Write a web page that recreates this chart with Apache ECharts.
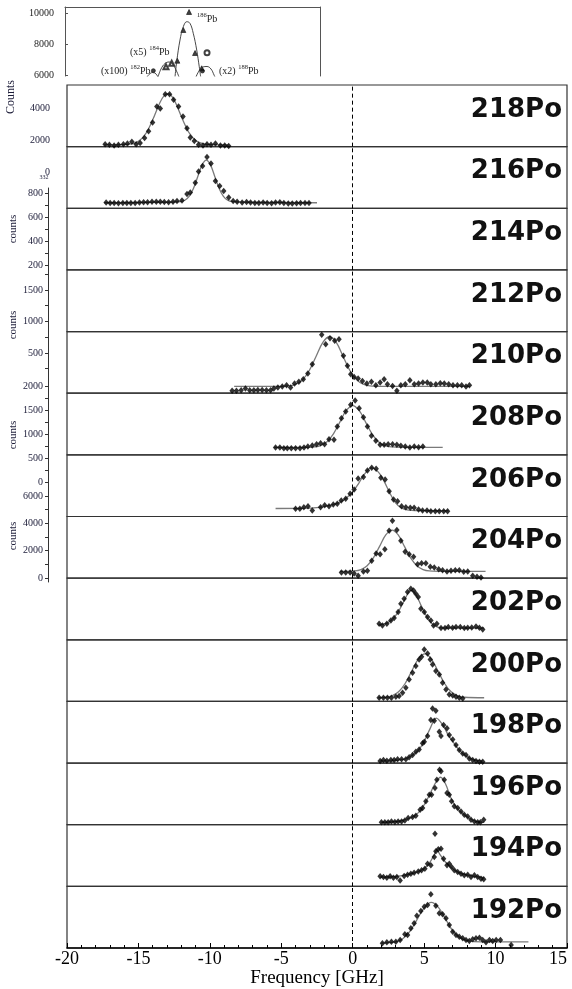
<!DOCTYPE html>
<html>
<head>
<meta charset="utf-8">
<script src="https://cdn.jsdelivr.net/npm/echarts@6/dist/echarts.min.js"></script>
<style>
html, body { margin: 0; padding: 0; background: #fff; }
#chart { width: 572px; height: 989px; }
</style>
</head>
<body>
<div id="chart"></div>
<script>
// Polonium isotopes, one panel each, top to bottom
const isotopes = ['218Po','216Po','214Po','212Po','210Po','208Po','206Po','204Po','202Po','200Po','198Po','196Po','194Po','192Po'];
const freqTicks = [-20, -15, -10, -5, 0, 5, 10, 15];

// Measured spectra: frequency [GHz] and normalised counts, with fitted profiles
const po218X = [-17.33,-17.03,-16.70,-16.40,-16.05,-15.77,-15.46,-15.16,-14.88,-14.57,-14.29,-14.01,-13.71,-13.47,-13.12,-12.82,-12.54,-12.19,-11.88,-11.60,-11.37,-11.09,-10.79,-10.48,-10.20,-9.92,-9.61,-9.26,-8.96,-8.68];
const po218Y = [0.04,0.03,0.02,0.03,0.04,0.05,0.08,0.04,0.06,0.14,0.25,0.39,0.65,0.62,0.85,0.85,0.76,0.65,0.49,0.30,0.15,0.09,0.03,0.02,0.04,0.03,0.05,0.02,0.02,0.01];
const po218FitX = [-17.4,-16.0,-15.5,-15.0,-14.5,-14.0,-13.5,-13.2,-12.95,-12.7,-12.4,-11.9,-11.4,-10.9,-10.4,-9.9,-8.7];
const po218FitY = [0.03,0.033,0.044,0.085,0.206,0.437,0.713,0.827,0.86,0.827,0.713,0.437,0.206,0.085,0.043,0.032,0.03];

const po216X = [-17.26,-16.98,-16.70,-16.40,-16.09,-15.81,-15.53,-15.23,-14.93,-14.64,-14.36,-14.05,-13.75,-13.47,-13.19,-12.89,-12.58,-12.30,-11.95,-11.60,-11.37,-11.02,-10.79,-10.51,-10.20,-9.92,-9.61,-9.31,-9.03,-8.68,-8.37,-8.09,-7.74,-7.43,-7.15,-6.85,-6.57,-6.27,-5.99,-5.68,-5.40,-5.10,-4.82,-4.51,-4.23,-3.93,-3.65,-3.34,-3.06];
const po216Y = [0.092,0.087,0.087,0.081,0.087,0.087,0.087,0.087,0.092,0.097,0.097,0.108,0.108,0.108,0.103,0.097,0.108,0.119,0.128,0.23,0.255,0.416,0.595,0.687,0.833,0.725,0.443,0.362,0.281,0.173,0.119,0.108,0.092,0.103,0.092,0.087,0.087,0.092,0.087,0.081,0.092,0.097,0.087,0.076,0.076,0.081,0.087,0.087,0.087];
const po216FitX = [-17.4,-12.5,-12.05,-11.75,-11.45,-11.15,-10.85,-10.55,-10.25,-9.95,-9.65,-9.35,-9.05,-8.75,-8.45,-7.5,-2.5];
const po216FitY = [0.09,0.10,0.108,0.130,0.192,0.321,0.512,0.70,0.78,0.70,0.512,0.321,0.192,0.130,0.108,0.10,0.09];

const po210X = [-8.44,-8.14,-7.81,-7.51,-7.21,-6.92,-6.64,-6.34,-6.04,-5.75,-5.52,-5.24,-4.93,-4.63,-4.35,-4.07,-3.77,-3.46,-3.14,-2.83,-2.17,-1.89,-1.59,-1.26,-0.96,-0.65,-0.37,-0.14,0.10,0.38,0.68,0.99,1.31,1.62,1.92,2.20,2.43,2.79,3.09,3.37,3.68,4.00,4.31,4.61,4.91,5.22,5.47,5.82,6.13,6.41,6.72,7.02,7.33,7.63,7.93,8.17];
const po210Y = [0.038,0.038,0.049,0.076,0.049,0.049,0.054,0.054,0.049,0.049,0.076,0.092,0.108,0.130,0.092,0.157,0.184,0.227,0.319,0.471,0.947,0.796,0.893,0.850,0.877,0.606,0.444,0.308,0.265,0.238,0.200,0.157,0.184,0.130,0.173,0.227,0.146,0.119,0.038,0.130,0.146,0.211,0.146,0.157,0.173,0.173,0.146,0.146,0.162,0.157,0.146,0.130,0.130,0.130,0.108,0.130];
const po210FitX = [-8.3,-5.0,-4.44,-3.97,-3.50,-3.03,-2.56,-2.09,-1.62,-1.15,-0.68,-0.21,0.26,0.73,1.20,2.0,8.2];
const po210FitY = [0.11,0.111,0.119,0.146,0.220,0.373,0.601,0.825,0.92,0.825,0.601,0.373,0.220,0.146,0.119,0.11,0.11];

const po208X = [-5.40,-5.10,-4.82,-4.58,-4.30,-4.00,-3.69,-3.41,-3.14,-2.83,-2.53,-2.25,-1.97,-1.66,-1.31,-1.08,-0.79,-0.49,-0.14,0.17,0.45,0.75,1.03,1.31,1.62,1.92,2.20,2.48,2.79,3.09,3.37,3.68,4.00,4.31,4.61,4.91];
const po208Y = [0.119,0.119,0.108,0.108,0.108,0.108,0.108,0.119,0.135,0.152,0.173,0.189,0.173,0.254,0.244,0.460,0.595,0.703,0.812,0.882,0.758,0.611,0.460,0.308,0.227,0.162,0.162,0.173,0.173,0.162,0.146,0.135,0.119,0.135,0.124,0.135];
const po208FitX = [-5.5,-3.0,-2.7,-2.25,-1.8,-1.35,-0.9,-0.45,0,0.45,0.9,1.35,1.8,2.25,2.7,3.5,6.3];
const po208FitY = [0.12,0.122,0.128,0.150,0.212,0.341,0.532,0.720,0.80,0.720,0.532,0.341,0.212,0.150,0.128,0.12,0.12];

const po206X = [-4.00,-3.70,-3.42,-3.13,-2.83,-2.25,-1.96,-1.66,-1.36,-1.08,-0.80,-0.49,-0.18,0.10,0.38,0.75,1.03,1.33,1.64,1.97,2.27,2.55,2.86,3.14,3.42,3.72,4.03,4.30,4.61,4.89,5.20,5.47,5.78,6.06,6.37,6.64];
const po206Y = [0.124,0.124,0.151,0.167,0.097,0.151,0.184,0.167,0.195,0.206,0.260,0.287,0.368,0.438,0.617,0.639,0.747,0.790,0.774,0.628,0.601,0.411,0.276,0.249,0.168,0.151,0.141,0.141,0.114,0.097,0.097,0.087,0.087,0.087,0.087,0.087];
const po206FitX = [-5.4,-3.0,-2.0,-1.0,-0.5,0,0.4,0.8,1.3,1.8,2.2,2.6,3.0,3.4,3.9,5.0,6.7];
const po206FitY = [0.13,0.135,0.16,0.22,0.29,0.40,0.53,0.68,0.79,0.72,0.57,0.38,0.22,0.14,0.105,0.095,0.095];

const po204X = [-0.79,-0.49,-0.18,0.10,0.38,0.75,1.03,1.33,1.64,1.92,2.25,2.55,2.78,3.09,3.37,3.67,3.95,4.26,4.54,4.82,5.12,5.43,5.71,6.02,6.29,6.60,6.88,7.18,7.46,7.77,8.05,8.40,8.70,8.98];
const po204Y = [0.092,0.092,0.092,0.076,0.038,0.108,0.119,0.281,0.400,0.389,0.470,0.768,0.931,0.779,0.606,0.427,0.389,0.346,0.227,0.243,0.243,0.184,0.173,0.146,0.130,0.108,0.119,0.130,0.130,0.103,0.108,0.038,0.022,0.01];
const po204FitX = [-0.9,0.14,0.575,1.01,1.445,1.88,2.315,2.75,3.185,3.62,4.055,4.49,4.925,5.36,6.5,9.3];
const po204FitY = [0.11,0.117,0.139,0.201,0.328,0.516,0.701,0.78,0.701,0.516,0.328,0.201,0.139,0.117,0.11,0.11];

const po202X = [1.85,2.08,2.39,2.67,2.90,3.18,3.37,3.60,3.84,4.07,4.26,4.42,4.59,4.77,5.01,5.24,5.47,5.66,5.89,6.18,6.46,6.69,6.99,7.23,7.53,7.81,8.05,8.33,8.63,8.87,9.10];
const po202Y = [0.260,0.233,0.260,0.314,0.352,0.449,0.584,0.666,0.774,0.828,0.801,0.747,0.693,0.503,0.449,0.368,0.314,0.233,0.260,0.190,0.190,0.206,0.195,0.206,0.206,0.190,0.195,0.200,0.217,0.195,0.168];
const po202FitX = [1.8,2.4,2.9,3.3,3.7,4.05,4.4,4.8,5.2,5.6,6.0,6.5,9.2];
const po202FitY = [0.24,0.27,0.36,0.50,0.68,0.80,0.74,0.55,0.37,0.25,0.20,0.19,0.19];

const po200X = [1.85,2.15,2.43,2.71,3.02,3.25,3.49,3.72,3.95,4.19,4.42,4.65,4.82,5.01,5.24,5.43,5.59,5.82,6.06,6.29,6.53,6.76,7.00,7.23,7.46,7.70];
const po200Y = [0.060,0.060,0.060,0.060,0.076,0.087,0.141,0.222,0.357,0.465,0.574,0.682,0.725,0.844,0.779,0.682,0.601,0.492,0.438,0.303,0.195,0.114,0.097,0.076,0.060,0.049];
const po200FitX = [1.8,2.29,2.75,3.21,3.67,4.13,4.59,5.05,5.51,5.97,6.43,6.89,7.35,7.81,9.2];
const po200FitY = [0.06,0.068,0.091,0.156,0.291,0.491,0.687,0.77,0.687,0.491,0.291,0.156,0.091,0.068,0.06];

const po198X = [1.92,2.15,2.39,2.67,2.90,3.14,3.42,3.72,3.95,4.19,4.42,4.65,4.89,5.01,5.24,5.47,5.59,5.71,5.82,6.06,6.18,6.36,6.60,6.76,7.00,7.23,7.46,7.70,7.93,8.16,8.40,8.63,8.87,9.10];
const po198Y = [0.033,0.049,0.038,0.049,0.049,0.060,0.060,0.060,0.093,0.130,0.184,0.222,0.320,0.346,0.438,0.698,0.887,0.687,0.850,0.509,0.438,0.617,0.563,0.455,0.384,0.293,0.211,0.157,0.130,0.076,0.049,0.033,0.022,0.022];
const po198FitX = [1.9,3.0,3.7,4.2,4.6,5.0,5.4,5.85,6.3,6.7,7.1,7.5,7.9,8.4,9.1];
const po198FitY = [0.03,0.04,0.07,0.13,0.21,0.35,0.55,0.73,0.62,0.45,0.32,0.20,0.12,0.06,0.035];

const po196X = [2.01,2.25,2.48,2.71,2.95,3.18,3.42,3.65,3.88,4.19,4.42,4.72,4.89,5.12,5.36,5.52,5.76,5.89,6.08,6.18,6.41,6.60,6.76,6.92,7.11,7.35,7.58,7.81,8.05,8.28,8.52,8.75,8.94,9.17];
const po196Y = [0.038,0.038,0.038,0.054,0.043,0.054,0.054,0.070,0.108,0.124,0.146,0.244,0.271,0.379,0.487,0.487,0.595,0.731,0.893,0.866,0.731,0.514,0.487,0.379,0.298,0.271,0.216,0.162,0.135,0.081,0.054,0.038,0.038,0.081];
const po196FitX = [2.0,3.0,3.8,4.3,4.8,5.3,5.75,6.15,6.5,6.9,7.3,7.7,8.2,8.7,9.2];
const po196FitY = [0.04,0.05,0.09,0.14,0.25,0.45,0.66,0.77,0.66,0.42,0.27,0.18,0.10,0.05,0.04];

const po194X = [1.92,2.15,2.39,2.62,2.85,3.09,3.32,3.60,3.84,4.07,4.30,4.59,4.82,5.05,5.24,5.47,5.71,5.76,5.82,5.99,6.18,6.36,6.60,6.76,6.92,7.11,7.35,7.58,7.81,8.05,8.28,8.52,8.75,8.98,9.17];
const po194Y = [0.162,0.151,0.141,0.162,0.141,0.151,0.097,0.168,0.190,0.206,0.222,0.243,0.260,0.287,0.368,0.341,0.476,0.855,0.568,0.601,0.612,0.449,0.341,0.368,0.314,0.260,0.233,0.206,0.179,0.190,0.151,0.179,0.151,0.124,0.114];
const po194FitX = [1.9,3.0,3.8,4.5,5.0,5.4,5.7,5.9,6.1,6.4,6.8,7.3,7.9,8.6,9.2];
const po194FitY = [0.15,0.16,0.19,0.23,0.29,0.39,0.51,0.59,0.52,0.42,0.32,0.24,0.19,0.16,0.14];

const po192X = [2.08,2.39,2.71,3.02,3.32,3.65,3.84,4.07,4.30,4.49,4.77,5.01,5.24,5.47,5.82,6.06,6.29,6.53,6.76,7.00,7.23,7.46,7.70,7.93,8.16,8.40,8.63,8.87,9.10,9.33,9.57,9.80,10.04,10.34,11.09];
const po192Y = [0.076,0.092,0.103,0.103,0.130,0.222,0.211,0.319,0.400,0.525,0.601,0.671,0.698,0.871,0.687,0.563,0.547,0.482,0.373,0.265,0.211,0.184,0.157,0.130,0.114,0.141,0.157,0.168,0.130,0.092,0.130,0.114,0.130,0.130,0.049];
const po192FitX = [2.0,3.0,3.5,4.0,4.5,5.0,5.5,6.0,6.5,7.0,7.5,8.0,9.0,12.3];
const po192FitY = [0.08,0.10,0.15,0.27,0.46,0.65,0.74,0.66,0.47,0.28,0.17,0.12,0.10,0.10];

// Lead reference spectra (inset): frequency offset and counts
const pb186X = [9.73,9.28,8.81,10.20,10.72];
const pb186Y = [10065,8903,6923,7419,6432];
const pb186FitX = [8.63,8.76,9.02,9.28,9.55,9.80,10.06,10.33,10.53,10.64];
const pb186FitY = [5890,6858,8258,9116,9439,9335,8690,7613,6535,5890];
const pb186OpenX = [11.14];
const pb186OpenY = [7439];
const pb184X = [7.92,8.37];
const pb184Y = [6535,6755];
const pb184FitX = [7.29,7.53,7.84,8.16,8.47,8.78,8.94];
const pb184FitY = [5871,6387,6742,6839,6677,6194,5871];
const pb182X = [6.93];
const pb182Y = [6277];
const pb182FitX = [6.43,6.67,6.90,7.14,7.29];
const pb182FitY = [5871,6097,6161,6065,5871];
const pb188X = [10.78];
const pb188Y = [6258];
const pb188FitX = [10.27,10.51,10.82,11.14,11.45,11.69,11.76];
const pb188FitY = [5871,6258,6516,6548,6387,6000,5871];
const insetTicks = [6000, 8000, 10000];

// Stray count scales along the left margin
const scaleA = [0, 2000, 4000];
const scaleB = [200, 400, 600, 800];
const scaleC = [500, 1000, 1500];
const scaleD = [0, 500, 1000, 1500, 2000];
const scaleE = [0, 2000, 4000, 6000];

const spectra = {
  '218Po': [po218X, po218Y, po218FitX, po218FitY],
  '216Po': [po216X, po216Y, po216FitX, po216FitY],
  '210Po': [po210X, po210Y, po210FitX, po210FitY],
  '208Po': [po208X, po208Y, po208FitX, po208FitY],
  '206Po': [po206X, po206Y, po206FitX, po206FitY],
  '204Po': [po204X, po204Y, po204FitX, po204FitY],
  '202Po': [po202X, po202Y, po202FitX, po202FitY],
  '200Po': [po200X, po200Y, po200FitX, po200FitY],
  '198Po': [po198X, po198Y, po198FitX, po198FitY],
  '196Po': [po196X, po196Y, po196FitX, po196FitY],
  '194Po': [po194X, po194Y, po194FitX, po194FitY],
  '192Po': [po192X, po192Y, po192FitX, po192FitY]
};

const pairs = (xs, ys) => xs.map((v, k) => [v, ys[k]]);
const range = (a, b, step) => { const r = []; for (let v = a; v <= b; v += step) r.push(v); return r; };
const plain = v => String(v);

const SERIF = '"Liberation Serif", "DejaVu Serif", serif';
const INK = '#1c1c38';
const PANEL_TOP = 85, PANEL_H = 863 / 14, PLOT_LEFT = 67, PLOT_W = 500;

const grids = [], xAxes = [], yAxes = [], series = [], graphics = [];

isotopes.forEach((iso, i) => {
  const top = PANEL_TOP + i * PANEL_H;
  const last = i === isotopes.length - 1;
  grids.push({ left: PLOT_LEFT, top: top, width: PLOT_W, height: PANEL_H, show: true,
    borderColor: '#333', borderWidth: 1.2, backgroundColor: 'transparent', outerBoundsMode: 'none' });
  xAxes.push({
    gridIndex: i, type: 'value', min: -20, max: 15, interval: 5, show: last, position: 'bottom',
    axisLine: { show: true, onZero: false, lineStyle: { color: '#000', width: 1.5 } },
    axisTick: { show: true, inside: true, length: 5, lineStyle: { color: '#000' } },
    minorTick: { show: true, splitNumber: 5, length: 3, lineStyle: { color: '#000' } },
    splitLine: { show: false },
    axisLabel: { show: true, color: '#000', fontFamily: SERIF, fontSize: 18, margin: 2,
      customValues: freqTicks, formatter: plain, alignMaxLabel: 'right' },
    name: last ? 'Frequency [GHz]' : '', nameLocation: 'middle', nameGap: 17,
    nameTextStyle: { color: '#000', fontFamily: SERIF, fontSize: 19 }
  });
  yAxes.push({ gridIndex: i, type: 'value', min: 0, max: 1, show: false, splitLine: { show: false } });

  const zeroLine = {
    silent: true, symbol: 'none', label: { show: false },
    lineStyle: { color: '#000', width: 1, type: [4, 3] },
    data: [{ xAxis: 0 }]
  };
  const s = spectra[iso];
  if (s) {
    series.push({
      type: 'line', xAxisIndex: i, yAxisIndex: i, data: pairs(s[2], s[3]),
      smooth: 0.35, showSymbol: false, symbol: 'none', silent: true,
      lineStyle: { color: '#7a7a7a', width: 1.3 }, z: 2
    });
    series.push({
      type: 'scatter', xAxisIndex: i, yAxisIndex: i, data: pairs(s[0], s[1]),
      symbol: 'diamond', symbolSize: [5.5, 6.5], silent: true,
      itemStyle: { color: '#000' }, z: 3, markLine: zeroLine
    });
  } else {
    series.push({ type: 'scatter', xAxisIndex: i, yAxisIndex: i, data: [], markLine: zeroLine });
  }
  graphics.push({
    type: 'text', right: 10, top: top + 12, z: 10,
    style: { text: iso, font: 'bold 26px "DejaVu Sans"', fill: '#111' }
  });
});

// Inset with the lead reference lines
const gi = grids.length;
grids.push({ left: 65, top: 7, width: 255, height: 69, show: false, outerBoundsMode: 'none' });
xAxes.push({ gridIndex: gi, type: 'value', min: 0, max: 20, position: 'top',
  axisLine: { show: true, lineStyle: { color: '#555', width: 1 } },
  axisTick: { show: false }, axisLabel: { show: false }, splitLine: { show: false } });
const insetY = yAxes.length;
yAxes.push({ gridIndex: gi, type: 'value', min: 5935, max: 10387, position: 'left',
  axisLine: { show: true, lineStyle: { color: '#555', width: 1 } },
  axisTick: { show: true, inside: true, length: 3, customValues: insetTicks, lineStyle: { color: '#555' } },
  axisLabel: { show: true, customValues: insetTicks, formatter: plain, fontFamily: SERIF, fontSize: 10, color: '#222', margin: 11 },
  splitLine: { show: false } });
yAxes.push({ gridIndex: gi, type: 'value', min: 5935, max: 10387, position: 'right',
  axisLine: { show: true, lineStyle: { color: '#555', width: 1 } },
  axisTick: { show: false }, axisLabel: { show: false }, splitLine: { show: false } });

const insetLine = (xs, ys) => ({ type: 'line', xAxisIndex: gi, yAxisIndex: insetY, data: pairs(xs, ys),
  smooth: 0.4, symbol: 'none', silent: true, lineStyle: { color: '#333', width: 0.9 } });
const insetPts = (xs, ys, sym, size) => ({ type: 'scatter', xAxisIndex: gi, yAxisIndex: insetY, data: pairs(xs, ys),
  symbol: sym, symbolSize: size, silent: true, itemStyle: { color: '#111', borderColor: '#111', borderWidth: 0.8 } });
series.push(insetLine(pb186FitX, pb186FitY), insetLine(pb184FitX, pb184FitY),
  insetLine(pb182FitX, pb182FitY), insetLine(pb188FitX, pb188FitY),
  insetPts(pb186X, pb186Y, 'triangle', 5), insetPts(pb186OpenX, pb186OpenY, 'emptyCircle', 5),
  insetPts(pb184X, pb184Y, 'emptyTriangle', 5), insetPts(pb182X, pb182Y, 'circle', 4),
  insetPts(pb188X, pb188Y, 'circle', 4));

const pbRich = {
  s: { fontFamily: SERIF, fontSize: 6.5, fill: '#222', verticalAlign: 'top', lineHeight: 8 },
  n: { fontFamily: SERIF, fontSize: 10, fill: '#222', verticalAlign: 'bottom', lineHeight: 12 }
};
const pbLabel = (x, y, text) => ({ type: 'text', x: x, y: y, z: 10,
  style: { text: text, rich: pbRich } });
graphics.push(
  pbLabel(197, 12, '{s|186}{n|Pb}'),
  pbLabel(130, 45, '{n|(x5) }{s|184}{n|Pb}'),
  pbLabel(101, 64, '{n|(x100) }{s|182}{n|Pb}'),
  pbLabel(219, 64, '{n|(x2) }{s|188}{n|Pb}')
);

// Stray scales on the left margin
const strayAxis = (top, height, min, max, labels, ticks, opts) => {
  const g = grids.length;
  grids.push({ left: opts.left, top: top, width: 1, height: height, show: false, outerBoundsMode: 'none' });
  xAxes.push({ gridIndex: g, type: 'value', show: false });
  yAxes.push({ gridIndex: g, type: 'value', min: min, max: max, position: 'left',
    axisLine: { show: opts.line, lineStyle: { color: '#333', width: 1 } },
    axisTick: { show: opts.line, inside: false, length: 3, customValues: ticks, lineStyle: { color: '#333' } },
    axisLabel: { show: true, customValues: labels, formatter: plain, fontFamily: SERIF, fontSize: 10, color: INK, margin: opts.margin },
    splitLine: { show: false },
    name: opts.name || '', nameLocation: 'middle', nameGap: 29, nameRotate: 90,
    nameTextStyle: { fontFamily: SERIF, fontSize: 11, color: INK } });
};
strayAxis(76, 100, -250, 6000, scaleA, [], { left: 54, line: false, margin: 4 });
strayAxis(188, 82, 158.3, 841.7, scaleB, range(200, 800, 100), { left: 48, line: true, margin: 5, name: 'counts' });
strayAxis(270, 110, 71, 1817, scaleC, range(250, 1750, 250), { left: 48, line: true, margin: 5, name: 'counts' });
strayAxis(380, 110, -167, 2125, scaleD, range(0, 2000, 250), { left: 48, line: true, margin: 5, name: 'counts' });
strayAxis(490, 92, -291, 6439, scaleE, range(0, 6000, 1000), { left: 48, line: true, margin: 5, name: 'counts' });

graphics.push(
  { type: 'text', x: 11, y: 97, rotation: Math.PI / 2, z: 10,
    style: { text: 'Counts', font: '12px ' + SERIF, fill: INK, align: 'center', verticalAlign: 'middle' } },
  { type: 'text', x: 44, y: 177, z: 10,
    style: { text: '332', font: '6px ' + SERIF, fill: INK, align: 'center', verticalAlign: 'middle' } }
);

const chart = echarts.init(document.getElementById('chart'));
chart.setOption({
  animation: false,
  backgroundColor: '#fff',
  grid: grids,
  xAxis: xAxes,
  yAxis: yAxes,
  series: series,
  graphic: graphics
});
</script>
</body>
</html>
